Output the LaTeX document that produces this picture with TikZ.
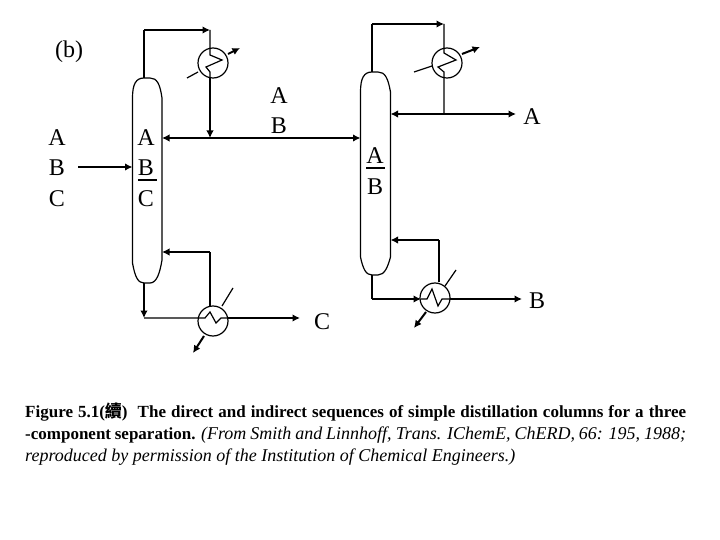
\documentclass[tikz,border=0pt]{standalone}
\usepackage{fontspec}
\setmainfont{Liberation Serif}
\newfontfamily\cjkfont{Noto Sans CJK TC}
\usetikzlibrary{arrows.meta,positioning}
\tikzset{
  thinline/.style={line width=1.2pt},
  flowarrow/.style={line width=2pt,-{Latex[length=7.5pt,width=7.5pt]}},
  bothways/.style={line width=2pt,{Latex[length=7.5pt,width=7.5pt]}-{Latex[length=7.5pt,width=7.5pt]}},
  exchanger/.style={circle,draw,line width=1.2pt,minimum size=30pt,inner sep=0pt},
  comp/.style={font=\fontsize{24}{24}\selectfont,inner sep=0pt,yshift=-1pt},
}
\begin{document}
\begin{tikzpicture}[x=1pt,y=-1pt]
  \useasboundingbox (0,0) rectangle (720,540);
  \node[comp] (blabel) at (69,51) {(b)};
  % feed
  \node[comp] (feedA) at (57,137) {A};
  \node[comp] (feedB) at (57,167) {B};
  \node[comp] (feedC) at (57,198) {C};
  \coordinate (feedout) at (78,167);
  % first column
  \coordinate (col1top) at (144,78);
  \coordinate (col1bot) at (144,283);
  \coordinate (col1feed) at (132.5,167);
  \coordinate (col1ref) at (162,138);
  \coordinate (col1boil) at (162,252);
  \draw[thinline] (col1top) .. controls (136,78) and (132.5,84) .. (132.5,98) -- (132.5,263)
    .. controls (135,277) and (138,283) .. (col1bot) -- (150,283)
    .. controls (157,283) and (160,272) .. (162,260) -- (162,98)
    .. controls (160,84) and (157,78) .. (150,78) -- (col1top);
  \node[comp] (colA) at (146,137) {A};
  \node[comp] (colB) at (146,167) {B};
  \node[comp] (colC) at (146,198) {C};
  \draw[thinline] (138,180) -- (157,180);
  \draw[flowarrow] (feedout) -- (col1feed);
  % first condenser
  \node[exchanger] (cond1) at (213,63) {};
  \coordinate (cond1up) at (210,30);
  \coordinate (cond1in) at (210,48);
  \coordinate (cond1out) at (210,78);
  \coordinate (drop1) at (210,138);
  \coordinate (overhead1) at (144,30);
  \draw[thinline] (col1top) -- (overhead1);
  \draw[flowarrow] (overhead1) -- (cond1up);
  \draw[thinline] (cond1up) -- (cond1in) -- (210,55) -- (222,60) -- (206,67) -- (210,72) -- (cond1out);
  \draw[flowarrow] (cond1out) -- (drop1);
  \draw[thinline] (187,78) -- (198,72);
  \draw[flowarrow] (228,54) -- (240,48);
  % first reboiler
  \node[exchanger] (boil1) at (213,321) {};
  \node[comp] (prodC) at (322,321) {C};
  \coordinate (bot1) at (144,318);
  \coordinate (ret1) at (210,252);
  \draw[flowarrow] (col1bot) -- (bot1);
  \draw[thinline] (bot1) -- (198,318) -- (205,318) -- (210,312) -- (216,323) -- (221,318) -- (228,318);
  \draw[flowarrow] (228,318) -- (300,318);
  \draw[thinline] (210,306) -- (ret1);
  \draw[flowarrow] (ret1) -- (col1boil);
  \draw[thinline] (222,306) -- (233,288);
  \draw[flowarrow] (204,336) -- (193,353);
  % middle stream
  \node[comp] (midA) at (279,95) {A};
  \node[comp] (midB) at (279,125) {B};
  % second column
  \coordinate (col2top) at (372,72);
  \coordinate (col2bot) at (372,275);
  \coordinate (col2feed) at (360.5,138);
  \coordinate (col2ref) at (390.5,114);
  \coordinate (col2boil) at (390.5,240);
  \draw[thinline] (col2top) .. controls (364,72) and (360.5,78) .. (360.5,92) -- (360.5,257)
    .. controls (363,269) and (366,275) .. (col2bot) -- (378,275)
    .. controls (385,275) and (388,266) .. (390.5,257) -- (390.5,92)
    .. controls (388,78) and (385,72) .. (378,72) -- (col2top);
  \node[comp] (col2A) at (375,155) {A};
  \node[comp] (col2B) at (375,186) {B};
  \draw[thinline] (366,168) -- (385,168);
  \draw[bothways] (col1ref) -- (col2feed);
  % second condenser
  \node[exchanger] (cond2) at (447,63) {};
  \node[comp] (prodA) at (532,116) {A};
  \coordinate (overhead2) at (372,24);
  \coordinate (cond2up) at (444,24);
  \coordinate (drop2) at (444,114);
  \draw[thinline] (col2top) -- (overhead2);
  \draw[flowarrow] (overhead2) -- (cond2up);
  \draw[thinline] (cond2up) -- (444,53) -- (456,60) -- (438,67) -- (444,72) -- (drop2);
  \draw[bothways] (col2ref) -- (516,114);
  \draw[thinline] (414,72) -- (432,66);
  \draw[flowarrow] (462,54) -- (480,47);
  % second reboiler
  \node[exchanger] (boil2) at (435,298) {};
  \node[comp] (prodB) at (537,300) {B};
  \coordinate (bot2) at (372,299);
  \coordinate (ret2) at (439,240);
  \draw[thinline] (col2bot) -- (bot2);
  \draw[flowarrow] (bot2) -- (421,299);
  \draw[thinline] (421,299) -- (427,299) -- (432,289) -- (438,306) -- (442,299) -- (450,299);
  \draw[flowarrow] (450,299) -- (522,299);
  \draw[thinline] (439,282) -- (ret2);
  \draw[flowarrow] (ret2) -- (col2boil);
  \draw[thinline] (445,286) -- (456,270);
  \draw[flowarrow] (426,312) -- (414,328);
  % caption
  \node[anchor=north west,text width=661pt,inner sep=0pt,align=justify,
        font=\fontsize{17}{22}\selectfont] (caption) at (25,403)
    {\textbf{Figure 5.1({\cjkfont 續})\ \ The direct and indirect sequences of simple distillation columns for a three}\linebreak
     \textbf{-component separation.} {\fontsize{18}{22}\selectfont\textit{(From Smith and Linnhoff, Trans. IChemE, ChERD, 66: 195, 1988;}}\linebreak
     {\fontsize{18}{22}\selectfont\textit{reproduced by permission of the Institution of Chemical Engineers.)}}};
\end{tikzpicture}
\end{document}
